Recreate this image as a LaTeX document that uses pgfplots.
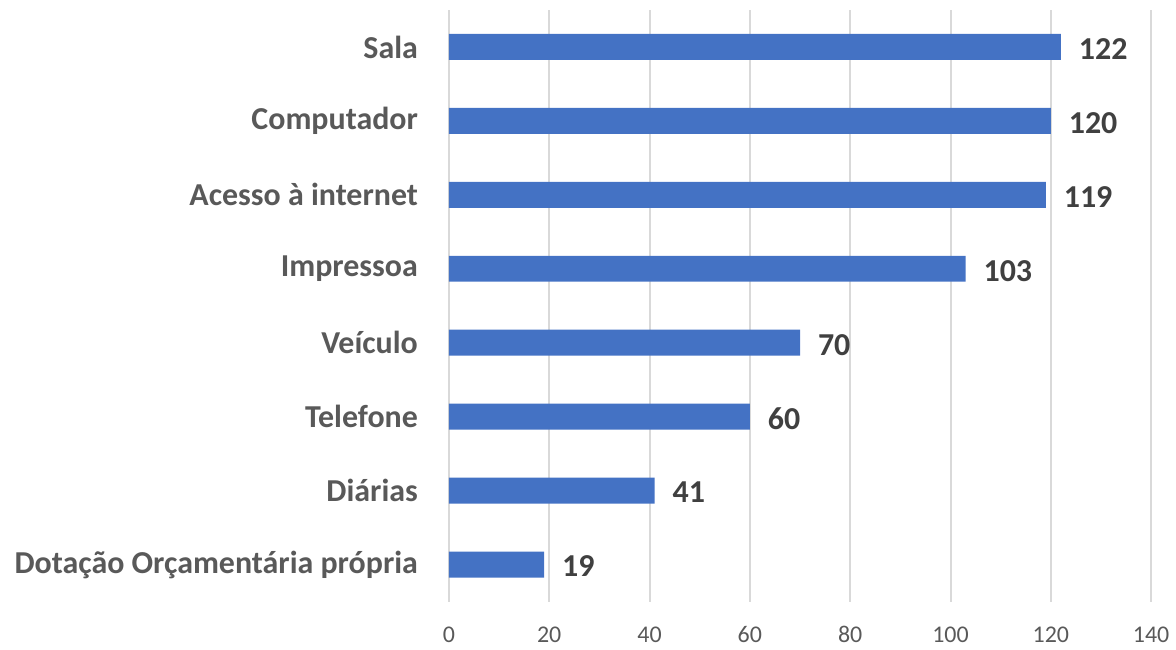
\documentclass[border=0pt]{standalone}
\usepackage{fontspec}
\setmainfont{Carlito}
\usepackage{pgfplots}
\pgfplotsset{compat=1.18}

\definecolor{barblue}{HTML}{4472C4}
\definecolor{gridgray}{HTML}{D9D9D9}
\definecolor{labgray}{HTML}{595959}
\definecolor{valgray}{HTML}{404040}

\begin{document}
\begin{tikzpicture}
\begin{axis}[
    xbar,
    scale only axis,
    width=352pt,
    height=296.5pt,
    bar width=13pt,
    xmin=0, xmax=140,
    ymin=-0.5, ymax=7.5,
    xtick={0,20,...,140},
    ytick=data,
    yticklabels={Dotação Orçamentária própria,Diárias,Telefone,Veículo,Impressoa,Acesso à internet,Computador,Sala},
    axis line style={draw=none},
    major tick length=0pt,
    xmajorgrids=true,
    grid style={gridgray, line width=1pt},
    /pgf/number format/assume math mode=true,
    xticklabel style={font=\fontsize{12}{14}\selectfont, text=labgray, yshift=-9pt},
    yticklabel style={font=\fontsize{16}{19}\selectfont\bfseries, text=labgray, xshift=-12pt},
    nodes near coords,
    every node near coord/.append style={font=\fontsize{16}{19}\selectfont\bfseries, text=valgray, xshift=5.5pt, yshift=-1pt},
    clip=false,
]
\addplot[fill=barblue, draw=none] coordinates {
    (19,0) (41,1) (60,2) (70,3) (103,4) (119,5) (120,6) (122,7)
};
\end{axis}
\path[use as bounding box] ([xshift=-225pt,yshift=-21.5pt]current axis.south west) rectangle ([xshift=11pt,yshift=5pt]current axis.north east);
\end{tikzpicture}
\end{document}
